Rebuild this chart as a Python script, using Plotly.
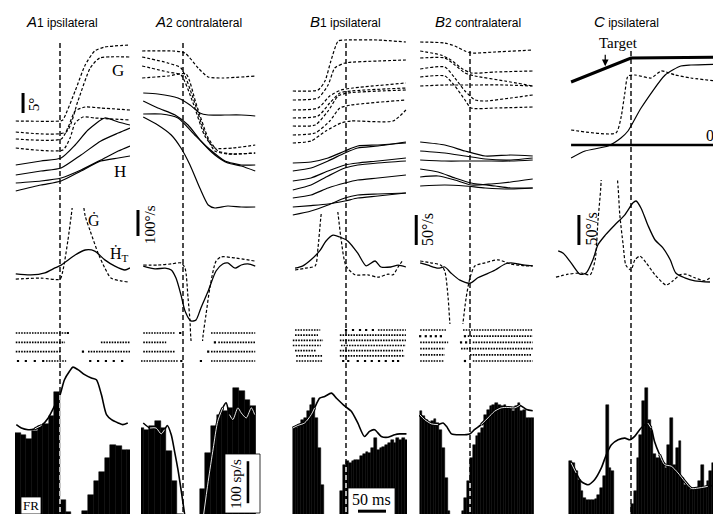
import numpy as np
import plotly.graph_objects as go

W, H = 721, 514
PX_MS = 0.56  # horizontal scale: pixels per ms (50 ms bar = 28 px)

# ======================= DATA (times in ms from saccade onset) =======================
# ---- A1 ipsilateral: position (deg) ----
a1_gaze_t = [[-79, 0, 5, 27, 45, 62, 80, 125], [-79, 11, 32, 54, 71, 125],
             [-79, 2, 14, 27, 45, 73, 125], [-79, 5, 18, 27, 41, 62.5, 125]]
a1_gaze = [[24.25, 24.25, 24.5, 31.75, 38.25, 41.75, 42.75, 43.25], [21.5, 21.5, 29.25, 37.5, 40, 40.25],
           [19.75, 19.75, 22.5, 26.75, 27.75, 27.5, 27], [17.5, 17, 20, 23.75, 25.25, 25, 24.5]]
a1_head_t = [[-79, -34, 2, 27, 50, 80, 104, 125], [-79, -34, 2, 37.5, 73, 104, 125],
             [-79, -34, 2, 37.5, 73, 104, 125], [-79, -34, 2, 37.5, 73, 104, 125]]
a1_head = [[13.25, 14.25, 15, 18.25, 22, 25, 24, 23.25], [10.75, 11.75, 12.5, 15.75, 19.25, 21.25, 22.5],
           [8.75, 9.25, 10, 12, 14.5, 16.75, 18], [6.75, 8.25, 9.25, 11.75, 14.25, 15, 15.5]]
# ---- A2 contralateral ----
a2_gaze_t = [[-73, -18, 3.6, 27, 45, 71, 129], [-73, -27, -3.6, 18, 39, 57, 80, 129],
             [-73, -27, -3.6, 18, 39, 57, 89, 129], [-73, -27, 5.4, 23, 45, 62.5, 89, 129]]
a2_gaze = [[41.75, 41.75, 41.25, 37.5, 35.25, 35, 35.5], [40.25, 38.75, 37.5, 30, 21.25, 16.75, 16, 16.25],
           [38, 36.5, 35.75, 28.75, 20.5, 17.5, 17.5, 18.25], [35, 35.5, 36, 28.75, 20, 16.75, 16, 16.25]]
a2_head_t = [[-71, -45, -9, 12.5, 30, 45, 75, 104, 129], [-71, -45, -14, 9, 32, 57, 80, 104, 129],
             [-71, -39, -9, 21, 45, 75, 104, 129], [-71, -45, -21, -3.6, 12.5, 30, 45, 57, 80, 104, 129]]
a2_head = [[31.25, 31, 30, 28.25, 26.25, 25.75, 25.75, 25.75, 25.5],
           [29.25, 27.5, 25.75, 23.25, 19.25, 15.75, 13.75, 13, 11.75],
           [26, 26, 25, 20.75, 17.5, 14.25, 13.25, 13.25],
           [25.25, 23.25, 20.75, 17.5, 13.25, 7.5, 3.25, 2.5, 3, 2.75, 2.75]]
# ---- B1 ipsilateral ----
b1_gaze_t = [[-95, -50, -37.5, -27, -14, -2, 57, 107], [-95, -50, -32, -20, -2, 57, 107],
             [-95, -50, -29, -9, 12.5, 107], [-95, -50, -29, -11, 9, 107], [-95, -55, -32, -14, 3.6, 107],
             [-95, -55, -29, -11, 9, 107], [-95, -62.5, -36, -9, 9, 84, 107]]
b1_gaze = [[31.75, 32, 34.25, 39.25, 44.25, 44.5, 44.5, 44], [29.5, 30, 33.25, 37.5, 38.75, 39.25, 39.5],
           [27, 27.5, 30.5, 32, 32.5, 33.75], [25, 25.5, 28.75, 31.25, 31.75, 32.5], [23, 23.25, 26.75, 30.5, 31.25, 32],
           [20.75, 21.25, 24.25, 27.5, 28.25, 29.5], [18.75, 19.25, 21.75, 23.75, 24.25, 24.25, 27]]
b1_head_t = [-95, -62.5, -32, -2, 21, 57, 107]
b1_head = [[13.75, 14, 15, 16.75, 18, 18.25, 18.75], [11.75, 12.5, 14.25, 16.25, 17.5, 18, 19],
           [9.25, 10, 11.75, 13.25, 13.75, 14.25, 15], [7, 8.25, 10.5, 12.5, 13.25, 13.75, 14.25],
           [5, 5.75, 7.5, 8.75, 9.5, 10, 10.75], [2.75, 3.1, 3.5, 4.25, 5, 5.5, 6.25], [0.75, 1.75, 3.25, 5, 5.75, 6, 6.25]]
# ---- B2 contralateral ----
b2_gaze_t = [[-89, -45, -27, -9, 2, 45, 112], [-89, -52, -34, -16, 2, 45, 112], [-89, -45, -27, -9, 9, 62.5, 112],
             [-89, -45, -27, -9, 9, 27, 73, 112], [-89, -45, -27, -9, 2, 45, 112], [-89, -45, -21, 2, 62.5, 112]]
b2_gaze = [[44, 43.75, 43, 41.75, 41.25, 41.5, 42], [41.75, 40.75, 39.5, 37.5, 36.25, 36.5, 36.75],
           [40, 40, 38.25, 36.25, 35.5, 34.25, 33], [37.25, 37.75, 35, 31.75, 29.5, 29.25, 30, 30.75],
           [35.25, 35.5, 33, 29.5, 27.5, 27.5, 27.75], [33, 33.25, 33.25, 33.25, 33.25, 33]]
b2_head_t = [[-89, -45, -9, 27, 73, 112], [-89, -45, -9, 27, 73, 112], [-89, -45, -9, 27, 73, 112],
             [-89, -57, -27, 2, 45, 73, 112], [-89, -57, -27, 2, 37.5, 73, 112], [-89, -45, -9, 27, 73, 112]]
b2_head = [[19, 18.25, 16.75, 15.5, 15.75, 15.5], [16.75, 16.25, 15.5, 14.75, 14.5, 15], [14.5, 14.25, 14.25, 14.25, 14.25, 14.5],
           [12.25, 11.5, 10, 8.75, 8, 7.5, 7.5], [10.25, 10.5, 9.5, 8.25, 8.5, 9, 9.75], [8, 8.25, 8, 7.5, 7.25, 7.5]]
# ---- C ipsilateral (deg relative to 0°) ----
c_target_t = [-107, 0, 168]
c_target = [15.75, 21.75, 22]
c_zero_t = [-107, 168]
c_zero = [0, 0]
c_gaze_t = [-107, -27, -18, -11, -5.4, 7, 36, 54, 79, 107, 168]
c_gaze = [3.75, 3, 6.75, 13, 17.25, 17.5, 16.75, 18.5, 17.5, 16.75, 15.75]
c_head_t = [-107, -82, -41, -18, -5.4, 18, 61, 89, 107, 168]
c_head = [-3.25, -1.5, -0.25, 1.75, 3.5, 9.25, 17.5, 19.75, 20, 20.25]

# ---- velocities (deg/s) ----
a1_hv_t = [-79, -52, -27, -9, 2, 27, 45, 62, 80, 98, 116, 125]
a1_hv = [8, 4, 12, 31, 42, 81, 100, 96, 62, 38, 23, 31]
a1_gv_t = [-79, -34, 0, 5, 14, 20, 32, 45, 54, 68, 80, 91, 109, 121]
a1_gv = [-12, -8, -12, 19, 135, 231, 420, 231, 173, 88, 31, -8, -19, -23]
a2_hv_t = [-71, -50, -32, -21, -12.5, -3.6, 3.6, 14, 23, 32, 45, 59, 71, 80, 93, 104, 116, 129]
a2_hv = [-4, -15, -12, -19, -50, -115, -177, -215, -212, -165, -100, -23, 4, 8, -12, 0, 4, -4]
a2_gv_t = [-71, -45, -21, -3.6, 3.6, 9, 12.5, 14, 25, 36, 41, 48, 59, 68, 93, 129]
a2_gv = [0, 0, 4, 8, -12, -127, -215, -281, -500, -269, -192, -88, 15, 31, 27, 15]
b1_hv_t = [-91, -77, -62.5, -46, -36, -23, -11, 3.6, 21, 36, 52, 62.5, 80, 93, 107]
b1_hv = [3, 7, 17, 33, 48, 58, 55, 48, 28, 7, 15, 5, 5, 8, 5]
b1_gv_t = [-91, -73, -55, -50, -45, -30, -14, -9, 0, 16, 39, 57, 75, 84, 93, 102]
b1_gv = [0, 3, 7, 37, 87, 200, 92, 53, 7, -8, -8, -12, -7, -8, 5, 17]
b2_hv_t = [-89, -75, -57, -45, -34, -18, 0, 14, 29, 45, 62.5, 73, 86, 98, 112]
b2_hv = [2, -2, -7, -5, -15, -27, -32, -23, -17, -10, 0, 2, 0, -2, -3]
b2_gv_t = [-89, -70, -52, -45, -39, -36, -25, -12.5, -7, 0, 9, 27, 50, 73, 98, 112]
b2_gv = [5, 2, -2, -12, -57, -98, -200, -98, -57, -23, -3, 2, 7, 0, -3, -3]
c_hv_t = [-130, -121, -107, -91, -80, -68, -59, -46, -29, -11, 3.6, 9, 18, 30, 43, 57, 70, 80, 96, 114, 141]
c_hv = [42, 38, 22, 3, 5, 27, 52, 68, 85, 102, 122, 125, 113, 85, 60, 47, 27, 5, -3, -8, -10]
c_gv_t = [-134, -112.5, -89, -73, -64, -59, -54, -43, -23, -20, -14, -9, 0, 7, 16, 27, 43, 62.5, 75, 87.5, 98, 114, 132, 141]
c_gv = [-2, 3, 5, 2, 27, 92, 147, 350, 147, 102, 52, 18, 10, 27, 33, 22, 2, -15, -8, 2, 3, -3, -8, -3]

# ---- rasters: dense bursts (start, end) and isolated spikes, per trial ----
a1_bursts = [[(-79, 11)], [(-79, 9), (73, 125)], [(-79, 2), (50, 125)], [(-25, 11)]]
a1_spikes = [[14], [], [41], [-75, -61, -45, -30, 54, 68, 82, 96, 111]]
a2_bursts = [[(-71, -14), (50, 129)], [(-71, -30), (63, 129)], [(-71, -14), (50, 129)], [(-75, -9), (50, 129)]]
a2_spikes = [[-5], [57], [45], [-3, 32]]
b1_bursts = [[(-91, -46), (57, 107)], [(-91, -50), (-11, 107)], [(-95, -41), (-11, 107)], [(-95, -45), (-9, 107)],
             [(-91, -54), (-11, 102)], [(-89, -41), (-11, 105)], [(-89, -41)]]
b1_spikes = [[0, 12.5, 25, 36, 48], [], [], [], [], [], [-5, 4, 21, 34, 46, 59, 71, 84, 93]]
b2_bursts = [[(-89, -43), (-12.5, 112)], [(-4, 112)], [(-89, -39), (5, 112)], [(-89, -45), (-16, 112)],
             [(-89, -45), (0, 109)], [(-89, -46), (5, 112)]]
b2_spikes = [[], [-89, -79, -70, -61, -52, -9], [-16, -7], [], [], [-9]]

# ---- firing-rate histograms (sp/s) and smoothed rate ----
a1_fr_t = [-75, -65, -55, -45, -35, -25, -15, -5, 5, 15, 25, 35, 45, 55, 65, 75, 85, 95, 105, 115, 125]
a1_fr = [207, 203, 194, 212, 223, 228, 248, 305, 48, 20, 0, 0, 21, 60, 92, 115, 148, 178, 176, 167, 167]
a1_rate_t = [-78, -69, -57, -45, -33, -21, -10, 0, 8, 17, 23, 32, 44, 56, 65, 74, 83, 92, 104, 112, 121]
a1_rate = [227, 219, 215, 217, 225, 243, 271, 298, 334, 354, 364, 358, 346, 338, 334, 298, 251, 239, 231, 227, 231]
a2_fr_t = [-75, -65, -55, -45, -35, -25, -15, -5, 5, 15, 25, 35, 45, 55, 65, 75, 85, 95, 105, 115, 125]
a2_fr = [219, 215, 225, 236, 219, 165, 92, 15, 0, 0, 0, 75, 160, 223, 251, 259, 267, 315, 306, 286, 271]
a2_rate_t = [-71, -59, -48, -39, -33, -28, -21, -15, -9, -3, 3, 20, 36, 45, 54, 62, 71, 77, 83, 89, 98, 104, 113, 122, 128]
a2_rate = [231, 219, 219, 205, 215, 225, 203, 163, 120, 68, 13, None, 5, 92, 171, 235, 267, 279, 251, 239, 267, 255, 243, 267, 251]
b1_fr_t = [-92.5 + 5 * i for i in range(41)]
b1_fr = [219, 219, 227, 238, 243, 259, 274, 290, 243, 171, 84, 8, 0, 0, 0, 0, 0, 68, 132, 140, 136, 140, 144, 144,
         152, 156, 163, 160, 171, 195, 167, 171, 175, 179, 183, 191, 183, 195, 191, 195, 191]
b1_rate_t = [-95, -86, -74, -62, -56, -47, -38, -26, -17, -2, 9.5, 21, 33, 42, 51, 63, 75, 87, 96, 108]
b1_rate = [219, 225, 231, 251, 267, 290, 294, 302, 290, 271, 259, 231, 199, 211, 215, 199, 197, 203, 205, 205]
b2_fr_t = [-87.5 + 5 * i for i in range(41)]
b2_fr = [259, 247, 239, 231, 235, 241, 231, 215, 171, 100, 21, 0, 0, 0, 0, 21, 52, 92, 148, 179, 199, 207, 219, 251,
         263, 271, 275, 279, 275, 271, 275, 267, 267, 259, 271, 279, 259, 263, 243, 243, 243]
b2_rate_t = [-90, -81, -69, -57, -48, -42, -33, -15.5, -0.6, 8, 20, 32, 44, 56, 68, 80, 89, 101, 112]
b2_rate = [251, 239, 229, 227, 231, 223, 205, 203, 205, 215, 227, 243, 259, 267, 268, 267, 273, 263, 260]
c_fr_t = [-107.5 + 5 * i for i in range(56)]
c_fr = [140, 136, 116, 96, 68, 52, 48, 48, 48, 50, 60, 76, 104, 275, 124, 116, 0, 0, 0, 0, 0, 0, 37, 68, 148, 203, 283,
        314, 239, 211, 156, 148, 148, 136, 124, 179, 243, 132, 171, 187, 100, 84, 80, 72, 72, 76, 92, 132, 76, 92, 116,
        136, 76, 56, 56, 84]
c_rate_t = [-107, -98, -89, -77, -65, -53, -44, -35, -23, -11, -2, 6.5, 18, 30, 36, 42, 51, 60, 72, 84, 96, 108, 120, 137, 155, 170]
c_rate = [136, 112, 92, 84, 96, 124, 156, 179, 191, 195, 191, 199, 219, 231, 219, 187, 156, 132, 128, 112, 92, 75, 76, 80, 83, 84]

# ======================= LAYOUT GEOMETRY (pixels) =======================
COL = {'A1': dict(zero=52, l=7, r=122, vl=7), 'A2': dict(zero=175, l=133, r=248, vl=126),
       'B1': dict(zero=338, l=284, r=399, vl=284), 'B2': dict(zero=462, l=411, r=526, vl=402),
       'C': dict(zero=623, l=546, r=718, vl=546)}
POS_ROW = (20, 210)
POS_ZERO = {'A1': 210, 'A2': 210, 'B1': 210, 'B2': 210, 'C': 137}
POS_PPU = 4.0
VEL_ROW = {'A1': (200, 333, 268, 0.26), 'A2': (200, 333, 257, 0.26), 'B1': (204, 316, 262, 0.6),
           'B2': (204, 316, 256, 0.6), 'C': (172, 290, 268, 0.6)}
RAS_ROW = {'A1': (325, 353), 'A2': (325, 353), 'B1': (322, 353), 'B2': (322, 353)}
FR_ROW = (352, 512, 512, 0.42)
DASH_TOP = {'A1': 34, 'A2': 33, 'B1': 32, 'B2': 42, 'C': 42}

SERIF = 'Liberation Serif, Times New Roman, serif'
SANS = 'Liberation Sans, Arial, sans-serif'

fig = go.Figure()
axes_layout = {}
counter = [0]


def add_axes(xl, xr, zero, yt, yb, yrange):
    counter[0] += 1
    k = counter[0]
    s = '' if k == 1 else str(k)
    axes_layout['xaxis' + s] = dict(domain=[xl / W, xr / W], range=[(xl - zero) / PX_MS, (xr - zero) / PX_MS],
                                    visible=False, anchor='y' + s, fixedrange=True)
    axes_layout['yaxis' + s] = dict(domain=[1 - yb / H, 1 - yt / H], range=yrange, visible=False,
                                    anchor='x' + s, fixedrange=True)
    return ('x' + s, 'y' + s)


def yr(top, bottom, zero, ppu):
    return [(zero - bottom) / ppu, (zero - top) / ppu]


def curve(ax, t, y, dash=None, width=1.2, color='black', shape='spline', smooth=0.7):
    fig.add_trace(go.Scatter(x=t, y=y, mode='lines', xaxis=ax[0], yaxis=ax[1], hoverinfo='skip',
                             connectgaps=False,
                             line=dict(color=color, width=width, dash=dash, shape=shape, smoothing=smooth)))


def raster(ax, bursts, spikes):
    bx, by = [], []
    for i, row in enumerate(bursts):
        for (s, e) in row:
            bx += [s, e, None]
            by += [i + 1, i + 1, None]
    fig.add_trace(go.Scatter(x=bx, y=by, mode='lines', xaxis=ax[0], yaxis=ax[1], hoverinfo='skip',
                             line=dict(color='black', width=1.7, dash='1.6px,1.1px')))
    sx, sy = [], []
    for i, row in enumerate(spikes):
        sx += row
        sy += [i + 1] * len(row)
    fig.add_trace(go.Scatter(x=sx, y=sy, mode='markers', xaxis=ax[0], yaxis=ax[1], hoverinfo='skip',
                             marker=dict(symbol='square', size=2.2, color='black', line=dict(width=0))))


def bar_height(bins_t, counts, bw, t):
    e0 = bins_t[0] - bw / 2.0
    i = int(np.floor((t - e0) / bw))
    i = min(max(i, 0), len(counts) - 1)
    return counts[i]


def fr_panel(ax, bins_t, counts, bw, rt, rv):
    fig.add_trace(go.Bar(x=bins_t, y=counts, width=bw, xaxis=ax[0], yaxis=ax[1], hoverinfo='skip',
                         marker=dict(color='black', line=dict(color='black', width=0.5))))
    curve(ax, rt, rv, width=1.6)
    inside = []
    for ti, vi in zip(rt, rv):
        if vi is None:
            inside.append(None)
        else:
            inside.append(vi if vi <= bar_height(bins_t, counts, bw, ti) + 8 else None)
    curve(ax, rt, inside, width=3.0)
    curve(ax, rt, inside, width=0.9, color='white')


DASH = '3px,2px'
columns = [
    ('A1', dict(gt=a1_gaze_t, g=a1_gaze, ht=a1_head_t, h=a1_head, hvt=a1_hv_t, hv=a1_hv, gvt=a1_gv_t, gv=a1_gv,
                bu=a1_bursts, sp=a1_spikes, frt=a1_fr_t, fr=a1_fr, bw=10, rt=a1_rate_t, rv=a1_rate)),
    ('A2', dict(gt=a2_gaze_t, g=a2_gaze, ht=a2_head_t, h=a2_head, hvt=a2_hv_t, hv=a2_hv, gvt=a2_gv_t, gv=a2_gv,
                bu=a2_bursts, sp=a2_spikes, frt=a2_fr_t, fr=a2_fr, bw=10, rt=a2_rate_t, rv=a2_rate)),
    ('B1', dict(gt=b1_gaze_t, g=b1_gaze, ht=[b1_head_t] * len(b1_head), h=b1_head, hvt=b1_hv_t, hv=b1_hv,
                gvt=b1_gv_t, gv=b1_gv, bu=b1_bursts, sp=b1_spikes, frt=b1_fr_t, fr=b1_fr, bw=5,
                rt=b1_rate_t, rv=b1_rate)),
    ('B2', dict(gt=b2_gaze_t, g=b2_gaze, ht=b2_head_t, h=b2_head, hvt=b2_hv_t, hv=b2_hv, gvt=b2_gv_t, gv=b2_gv,
                bu=b2_bursts, sp=b2_spikes, frt=b2_fr_t, fr=b2_fr, bw=5, rt=b2_rate_t, rv=b2_rate)),
    ('C', dict(gt=[c_gaze_t], g=[c_gaze], ht=[c_head_t], h=[c_head], hvt=c_hv_t, hv=c_hv, gvt=c_gv_t, gv=c_gv,
               bu=None, sp=None, frt=c_fr_t, fr=c_fr, bw=5, rt=c_rate_t, rv=c_rate)),
]

AX = {}
for name, d in columns:
    c = COL[name]
    pos_ax = add_axes(c['l'], c['r'], c['zero'], POS_ROW[0], POS_ROW[1],
                      yr(POS_ROW[0], POS_ROW[1], POS_ZERO[name], POS_PPU))
    for t, y in zip(d['gt'], d['g']):
        curve(pos_ax, t, y, dash=DASH, smooth=0.6)
    for t, y in zip(d['ht'], d['h']):
        curve(pos_ax, t, y, smooth=0.6)
    if name == 'C':
        curve(pos_ax, c_target_t, c_target, width=3, shape='linear')
        curve(pos_ax, c_zero_t, c_zero, width=2.6, shape='linear')
    vt, vb, vz, vppu = VEL_ROW[name]
    vel_ax = add_axes(c['vl'], c['r'], c['zero'], vt, vb, yr(vt, vb, vz, vppu))
    curve(vel_ax, d['gvt'], d['gv'], dash=DASH, width=1.2)
    curve(vel_ax, d['hvt'], d['hv'], width=1.3)
    ras_ax = None
    if d['bu'] is not None:
        n = len(d['bu'])
        r0, r1 = RAS_ROW[name]
        sp = (r1 - r0) / (n - 1)
        ras_ax = add_axes(c['l'], c['r'], c['zero'], r0 - sp / 2, r1 + sp / 2, [n + 0.5, 0.5])
        raster(ras_ax, d['bu'], d['sp'])
    ft, fb, fz, fppu = FR_ROW
    fr_ax = add_axes(c['l'], c['r'], c['zero'], ft, fb, yr(ft, fb, fz, fppu))
    fr_panel(fr_ax, d['frt'], d['fr'], d['bw'], d['rt'], d['rv'])
    AX[name] = dict(pos=pos_ax, vel=vel_ax, ras=ras_ax, fr=fr_ax, d=d)

# ======================= SHAPES =======================
shapes = []
for name in COL:
    shapes.append(dict(type='line', xref=AX[name]['pos'][0], yref='paper', x0=0, x1=0,
                       y0=1 - 512 / H, y1=1 - DASH_TOP[name] / H,
                       line=dict(color='black', width=1.4, dash='5px,3px'), layer='above'))
    # the onset line shows white where it crosses the black histogram bars
    d = AX[name]['d']
    hb = bar_height(d['frt'], d['fr'], d['bw'], -0.5)
    if hb > 0:
        fx, fy = AX[name]['fr']
        shapes.append(dict(type='line', xref=fx, yref=fy, x0=0, x1=0, y0=0, y1=hb,
                           line=dict(color='white', width=1.4, dash='5px,3px'), layer='above'))


def px_box(x0, y0, x1, y1):
    return dict(type='rect', xref='paper', yref='paper', x0=x0 / W, x1=x1 / W, y0=1 - y1 / H, y1=1 - y0 / H,
                fillcolor='white', line=dict(color='black', width=0.8), layer='above')


def vbar(ax, t, y0, y1, w=3):
    return dict(type='line', xref=ax[0], yref=ax[1], x0=t, x1=t, y0=y0, y1=y1,
                line=dict(color='black', width=w), layer='above')


shapes.append(px_box(13, 489, 33, 506))
shapes.append(px_box(217, 446, 252, 505))
shapes.append(px_box(340, 480, 387, 507))
# scale bars
shapes.append(vbar(AX['A1']['pos'], -66, 26.25, 31.25))          # 5 deg
shapes.append(vbar(AX['A2']['vel'], -80.4, 111.5, 211.5))        # 100 deg/s
shapes.append(vbar(AX['B2']['vel'], -96, 31.7, 81.7))            # 50 deg/s
shapes.append(vbar(AX['C']['vel'], -93, 51.7, 101.7))            # 50 deg/s
shapes.append(vbar(AX['A2']['fr'], 116, 40, 140, w=2.6))         # 100 sp/s
shapes.append(dict(type='line', xref=AX['B1']['fr'][0], yref=AX['B1']['fr'][1], x0=21.4, x1=71.4, y0=21, y1=21,
                   line=dict(color='black', width=3), layer='above'))  # 50 ms

# ======================= ANNOTATIONS =======================
ann = []


def label(ax, x, y, text, size=16, angle=0, font=SERIF, xanchor='center'):
    ann.append(dict(xref=ax[0], yref=ax[1], x=x, y=y, text=text, showarrow=False, textangle=angle,
                    xanchor=xanchor, yanchor='middle', font=dict(family=font, size=size, color='black')))


def title(px_x, letter, num, word):
    ann.append(dict(xref='paper', yref='paper', x=px_x / W, y=1 - 13 / H, xanchor='left', yanchor='middle',
                    showarrow=False,
                    text='<i>%s</i><span style="font-size:12px">%s %s</span>' % (letter, num, word),
                    font=dict(family=SANS, size=15, color='black')))


title(16, 'A', '1', 'ipsilateral')
title(145, 'A', '2', 'contralateral')
title(300, 'B', '1', 'ipsilateral')
title(425, 'B', '2', 'contralateral')
title(584, 'C', '', 'ipsilateral')

label(AX['A1']['pos'], 104, 36.75, 'G', size=17)
label(AX['A1']['pos'], 107, 11.75, 'H', size=17)
label(AX['A1']['pos'], -46, 28.5, '5°', size=15, angle=-90)
label(AX['A1']['vel'], 60, 215, 'Ġ', size=16)
label(AX['A1']['vel'], 106, 84, 'Ḣ<sub>T</sub>', size=16)
label(AX['A2']['vel'], -59, 158, '100°/s', size=15, angle=-90)
label(AX['B2']['vel'], -77, 58, '50°/s', size=16, angle=-90)
label(AX['C']['vel'], -71, 78, '50°/s', size=16, angle=-90)
label(AX['C']['pos'], -23, 25.6, 'Target', size=15)
label(AX['C']['pos'], 163, 2.4, '0°', size=16, xanchor='right')
label(AX['A2']['fr'], 94.6, 86, '100 sp/s', size=15, angle=-90)
label(AX['B1']['fr'], 46, 50, '50 ms', size=16)
ann.append(dict(xref='paper', yref='paper', x=23 / W, y=1 - 497.5 / H, text='FR', showarrow=False,
                xanchor='center', yanchor='middle', font=dict(family=SERIF, size=13, color='black')))
ann.append(dict(xref=AX['C']['pos'][0], yref=AX['C']['pos'][1], x=-46, y=19.7, ax=0, ay=-13, text='',
                showarrow=True, arrowhead=2, arrowsize=1.1, arrowwidth=1.2, arrowcolor='black'))

fig.update_layout(width=W, height=H, margin=dict(l=0, r=0, t=0, b=0), showlegend=False,
                  paper_bgcolor='white', plot_bgcolor='rgba(0,0,0,0)', shapes=shapes, annotations=ann,
                  bargap=0, **axes_layout)
fig.write_html('out.html')
